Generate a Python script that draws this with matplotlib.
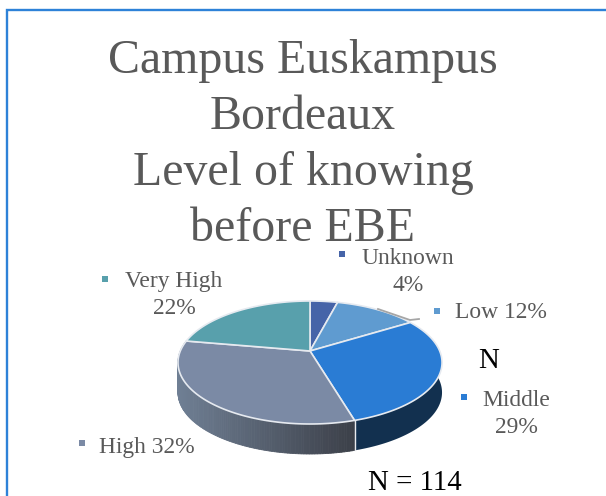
import matplotlib
matplotlib.use("Agg")
import matplotlib.pyplot as plt
import numpy as np

plt.rcParams['font.family'] = ['Liberation Serif', 'DejaVu Serif']

categories = ['Unknown', 'Low', 'Middle', 'High', 'Very High']
percents = [4, 12, 29, 32, 22]
top_colors = ['#4664a8', '#5f9bd0', '#2a7cd4', '#7b8aa5', '#58a0ac']
side_colors = ['#2a3c65', '#39607f', '#12304f', '#5a6678', '#35606a']

TITLE = 'Campus Euskampus\nBordeaux\nLevel of knowing\nbefore EBE'
TEXT_GREY = '#595959'

# pie geometry in pixels, the top face is a circle seen in perspective
CX, CY = 310, 351
A, B, K = 129.7, 59.35, 0.187
DEPTH = 30


def project(theta):
    # theta is clockwise from 12 o'clock
    x, y = np.sin(theta), np.cos(theta)
    w = 1 + K * y
    return CX + A * x / w, CY - B * y / w


fig = plt.figure(figsize=(6.06, 4.96), dpi=100)
ax = fig.add_axes([0, 0, 1, 1])
ax.set_xlim(0, 606)
ax.set_ylim(496, 0)
ax.axis('off')

# chart frame, the crop only shows the left and top sides
ax.plot([7, 7, 606], [496, 10, 10], color='#2e82d8', lw=1.7,
        solid_joinstyle='miter', zorder=1)

fractions = np.array(percents) / sum(percents)
edges = np.concatenate([[0], np.cumsum(fractions)]) * 2 * np.pi

# side wall, only the part of the rim that faces us
for i in range(len(percents)):
    t = np.linspace(edges[i], edges[i + 1], 120)
    px, py = project(t)
    visible = (t > np.pi / 2 - 0.19) & (t < 3 * np.pi / 2 + 0.19)
    if not visible.any():
        continue
    px, py = px[visible], py[visible]
    if categories[i] == 'High':
        # gradient from light on the left to dark on the right
        dark = np.array(matplotlib.colors.to_rgb('#3c4049'))
        light = np.array(matplotlib.colors.to_rgb('#6f7f94'))
        lo, hi = px.min(), px.max()
        for j in range(len(px) - 1):
            f = (px[j] - lo) / (hi - lo)
            ax.fill([px[j], px[j + 1], px[j + 1], px[j]],
                    [py[j], py[j + 1], py[j + 1] + DEPTH, py[j] + DEPTH],
                    color=dark * f + light * (1 - f), lw=0.6, zorder=2)
    else:
        ax.fill(np.r_[px, px[::-1]], np.r_[py, py[::-1] + DEPTH],
                color=side_colors[i], lw=0, zorder=2)

# white seam on the wall between Middle and High
sx, sy = project(edges[3])
ax.plot([sx, sx], [sy, sy + DEPTH], color='#e8eaee', lw=1.0, zorder=3)

# top face
for i in range(len(percents)):
    t = np.linspace(edges[i], edges[i + 1], 120)
    px, py = project(t)
    ax.fill(np.r_[CX, px], np.r_[CY, py], facecolor=top_colors[i],
            edgecolor='#e6eaf0', lw=1.2, joinstyle='round', zorder=4)

# leader line for Low, mostly tucked under the slice
ax.plot([378, 410, 419], [309, 320, 319], color='#a6a6a6', lw=1.3, zorder=5)

ax.text(303, 145, TITLE, ha='center', va='center', fontsize=34.5,
        color=TEXT_GREY, linespacing=1.35)

# data labels with their small legend keys
labels = [
    (408, 272, 'Unknown\n4%', 342, 254),
    (501, 313, 'Low 12%', 437, 311),
    (516, 414, 'Middle\n29%', 464, 397),
    (147, 447, 'High 32%', 82, 443),
    (174, 295, 'Very High\n22%', 105, 279),
]
for (tx, ty, txt, kx, ky), c in zip(labels, top_colors):
    ax.text(tx, ty, txt, ha='center', va='center', fontsize=16.9,
            color=TEXT_GREY, linespacing=1.36, zorder=6)
    ax.plot(kx, ky, marker='s', ms=4.8, color=c, mew=0, zorder=6)

ax.text(489, 361, 'N', ha='center', va='center', fontsize=20.8, color='black')
ax.text(415, 489.5, 'N = 114', ha='center', va='baseline', fontsize=20.8, color='black')

fig.savefig('out.png', dpi=100)
